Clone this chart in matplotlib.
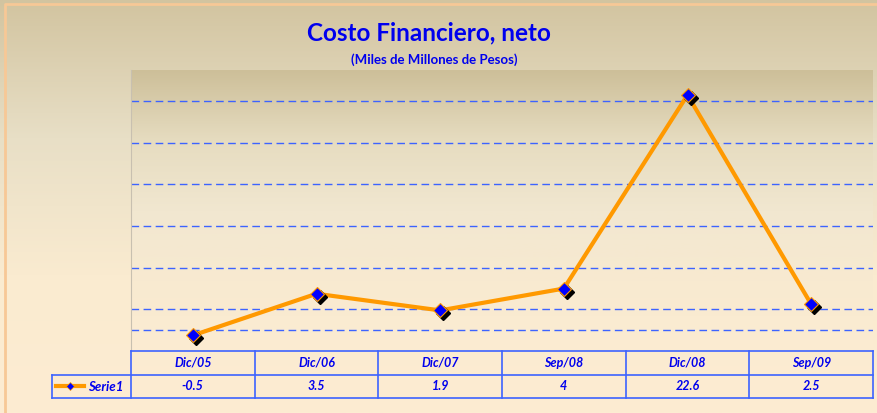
import matplotlib
matplotlib.use("Agg")
import matplotlib.pyplot as plt
import numpy as np
from matplotlib.colors import LinearSegmentedColormap
from matplotlib.transforms import offset_copy

categories = ["Dic/05", "Dic/06", "Dic/07", "Sep/08", "Dic/08", "Sep/09"]
values = [-0.5, 3.5, 1.9, 4, 22.6, 2.5]
value_labels = ["-0.5", "3.5", "1.9", "4", "22.6", "2.5"]
series_name = "Serie1"
grid_values = [0, 2, 6, 10, 14, 18, 22]

W, H = 877, 413
BLUE = "#0000ee"
ORANGE = "#ff9900"
plt.rcParams["font.family"] = ["Lato", "DejaVu Sans"]


def fx(x):
    return x / W


def fy(y):
    return 1 - y / H


fig = plt.figure(figsize=(W / 100, H / 100), dpi=100)

# outer chart background gradient
bg = fig.add_axes([0, 0, 1, 1])
outer = LinearSegmentedColormap.from_list("outer", ["#d2c4a0", "#e8dfc6", "#faebd0", "#fdecd2"])
bg.imshow(np.linspace(0, 1, 256).reshape(-1, 1), aspect="auto", cmap=outer,
          extent=[0, 1, 0, 1], origin="upper")
bg.set_xlim(0, 1)
bg.set_ylim(0, 1)
bg.axis("off")
bg.plot([fx(5), fx(5), fx(877)], [0, fy(4), fy(4)], color="#f7c896", lw=2)

fig.text(fx(429), fy(33), "Costo Financiero, neto", ha="center", va="center",
         fontsize=17.5, fontweight="bold", color=BLUE)
fig.text(fx(434), fy(60), "(Miles de Millones de Pesos)", ha="center", va="center",
         fontsize=9.5, fontweight="bold", color=BLUE)

# plot area
left, right, top, bottom = 131, 873, 70, 351
ax = fig.add_axes([fx(left), fy(bottom), fx(right) - fx(left), fy(top) - fy(bottom)])
x = np.arange(len(categories))
ax.set_xlim(-0.5, len(categories) - 0.5)
ax.set_ylim(-2, 25)
inner = LinearSegmentedColormap.from_list("inner", ["#cdbf99", "#e6dcc0", "#f1e7d0", "#f8ead0", "#fcecd2"])
ax.imshow(np.linspace(0, 1, 256).reshape(-1, 1), aspect="auto", cmap=inner,
          extent=[-0.5, len(categories) - 0.5, -2, 25], origin="upper", zorder=0)
for g in grid_values:
    ax.axhline(g, color="#3d63ff", lw=1.0, ls=(0, (5.5, 3.2)), zorder=1)

ax.plot(x, values, color=ORANGE, lw=3, zorder=3, solid_capstyle="round")
shadow = offset_copy(ax.transData, fig=fig, x=3, y=-3, units="dots")
ax.plot(x, values, ls="none", marker="D", ms=7, color="black", transform=shadow, zorder=4)
ax.plot(x, values, ls="none", marker="D", ms=7, markerfacecolor="#0000ff",
        markeredgecolor=ORANGE, markeredgewidth=0.8, zorder=5)

ax.set_xticks([])
ax.set_yticks([])
for side in ["top", "right", "bottom"]:
    ax.spines[side].set_visible(False)
ax.spines["left"].set_color("#c8c0b0")
ax.spines["left"].set_linewidth(0.8)

# data table under the plot
tab_top, tab_mid, tab_bot = 351, 376, 398
tax = fig.add_axes([fx(left), fy(tab_bot), fx(right) - fx(left), fy(tab_top) - fy(tab_bot)])
tax.set_xlim(-0.5, len(categories) - 0.5)
tax.set_ylim(0, 2)
tax.axis("off")
lc = "#3d63ff"
legend_left = -0.5 - (left - 52) / ((right - left) / len(categories))
tax.plot([-0.5, len(categories) - 0.5], [2, 2], color=lc, lw=1.2, clip_on=False)
tax.plot([legend_left, len(categories) - 0.5], [1, 1], color=lc, lw=1.2, clip_on=False)
tax.plot([legend_left, len(categories) - 0.5], [0, 0], color=lc, lw=1.2, clip_on=False)
tax.plot([legend_left, legend_left], [0, 1], color=lc, lw=1.2, clip_on=False)
for i in range(len(categories) + 1):
    tax.plot([i - 0.5, i - 0.5], [0, 2], color=lc, lw=1.2, clip_on=False)
for i, (cat, lab) in enumerate(zip(categories, value_labels)):
    tax.text(i, 1.5, cat, ha="center", va="center", fontsize=9, fontweight="bold",
             style="italic", color=BLUE)
    tax.text(i, 0.5, lab, ha="center", va="center", fontsize=9, fontweight="bold",
             style="italic", color=BLUE)

# legend key inside the row label cell
lx0 = legend_left + 0.03
lx1 = legend_left + 0.26
tax.plot([lx0, lx1], [0.5, 0.5], color=ORANGE, lw=3, clip_on=False)
tax.plot([(lx0 + lx1) / 2], [0.5], marker="D", ms=4.5, markerfacecolor="#0000ff",
         markeredgecolor=ORANGE, markeredgewidth=0.5, clip_on=False)
tax.text(lx1 + 0.03, 0.45, series_name, ha="left", va="center", fontsize=9.5,
         fontweight="bold", style="italic", color=BLUE)

fig.savefig("out.png", dpi=100)
